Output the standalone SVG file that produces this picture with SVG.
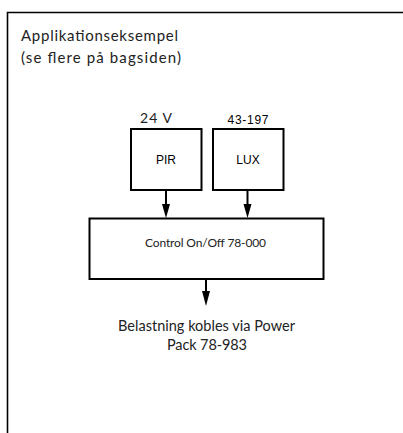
<svg xmlns="http://www.w3.org/2000/svg" width="403" height="433" viewBox="0 0 403 433">
<defs>
<style>
.frame{fill:none;stroke:#000;stroke-width:1.6}
.box{fill:#fff;stroke:#000;stroke-width:2}
.conn{stroke:#000;stroke-width:2;fill:none}
.gill{font-family:Lato,"Open Sans","DejaVu Sans",sans-serif;fill:#222}
.helv{font-family:"Liberation Sans",Arial,sans-serif;fill:#000;font-size:12px}
</style>
</defs>
<rect width="403" height="433" fill="#fff"/>
<g id="frame">
<path class="frame" d="M7.5,433 L7.5,12.5 L403,12.5"/>
<text class="gill" x="21" y="41" font-size="15" textLength="157">Applikationseksempel</text>
<text class="gill" x="21" y="63" font-size="15" textLength="160">(se flere på bagsiden)</text>
</g>
<g id="connectors">
<line class="conn" x1="166" y1="190" x2="166" y2="204"/>
<path d="M162,204 L170,204 L166,218 Z" fill="#000"/>
<line class="conn" x1="247.5" y1="190" x2="247.5" y2="204"/>
<path d="M243.5,204 L251.5,204 L247.5,218 Z" fill="#000"/>
<line class="conn" x1="206" y1="279" x2="206" y2="292"/>
<path d="M202,291 L210,291 L206,306 Z" fill="#000"/>
</g>
<g id="pir">
<text class="gill" x="156" y="123" font-size="14" text-anchor="middle" textLength="32">24 V</text>
<rect class="box" x="131" y="129" width="70.5" height="61"/>
<text class="helv" x="166" y="164" text-anchor="middle">PIR</text>
</g>
<g id="lux">
<text class="helv" x="248" y="124" text-anchor="middle" font-size="12.5" textLength="41">43-197</text>
<rect class="box" x="213" y="129" width="70.5" height="61"/>
<text class="helv" x="248" y="164" text-anchor="middle" font-size="12.5">LUX</text>
</g>
<g id="control">
<rect class="box" x="89.5" y="218.5" width="234" height="60.5"/>
<text class="gill" x="205.5" y="246.5" font-size="12" text-anchor="middle" textLength="121">Control On/Off 78-000</text>
</g>
<g id="load">
<text class="gill" x="206.5" y="331" font-size="14.5" text-anchor="middle" textLength="177">Belastning kobles via Power</text>
<text class="gill" x="207" y="349.5" font-size="14.5" text-anchor="middle" textLength="80">Pack 78-983</text>
</g>
</svg>
